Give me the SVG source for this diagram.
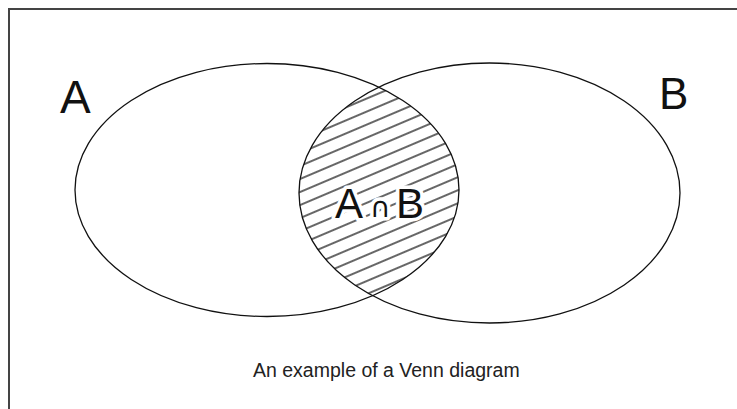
<svg xmlns="http://www.w3.org/2000/svg" width="737" height="409" viewBox="0 0 737 409">
  <style>
    .set { fill: none; stroke: #111; stroke-width: 1.3; }
    .big { font-family: "Liberation Sans", Arial, sans-serif; fill: #111; }
    .halo { stroke: #fff; stroke-width: 7; stroke-linejoin: round; paint-order: stroke; }
    .cap { font-family: "Liberation Sans", Arial, sans-serif; font-size: 19.5px; fill: #222; }
  </style>
  <defs>
    <pattern id="hatch" patternUnits="userSpaceOnUse" width="20" height="12" patternTransform="rotate(-23)">
      <line x1="0" y1="6" x2="20" y2="6" stroke="#000" stroke-width="1.2"/>
    </pattern>
    <clipPath id="clipA"><ellipse cx="267" cy="190" rx="192" ry="126.5"/></clipPath>
    <clipPath id="clipB"><ellipse cx="489.5" cy="193" rx="190.5" ry="130"/></clipPath>
  </defs>
  <rect width="737" height="409" fill="#fff"/>
  <rect x="9" y="9" width="740" height="420" fill="none" stroke="#444" stroke-width="2"/>

  <g id="intersection">
    <g clip-path="url(#clipA)">
      <rect x="290" y="80" width="180" height="230" fill="url(#hatch)" clip-path="url(#clipB)"/>
    </g>
    <text class="big halo" x="335" y="218" font-size="42">A</text>
    <text class="halo" x="370" y="217" font-family="DejaVu Sans, sans-serif" font-size="28" fill="#111">∩</text>
    <text class="big halo" x="396" y="218" font-size="42">B</text>
  </g>

  <g id="setA">
    <ellipse class="set" cx="267" cy="190" rx="192" ry="126.5"/>
    <text class="big" x="60" y="113" font-size="46">A</text>
  </g>

  <g id="setB">
    <ellipse class="set" cx="489.5" cy="193" rx="190.5" ry="130"/>
    <text class="big" x="659" y="109" font-size="44">B</text>
  </g>

  <g id="caption">
    <text class="cap" x="253" y="377">An example of a Venn diagram</text>
  </g>
</svg>
